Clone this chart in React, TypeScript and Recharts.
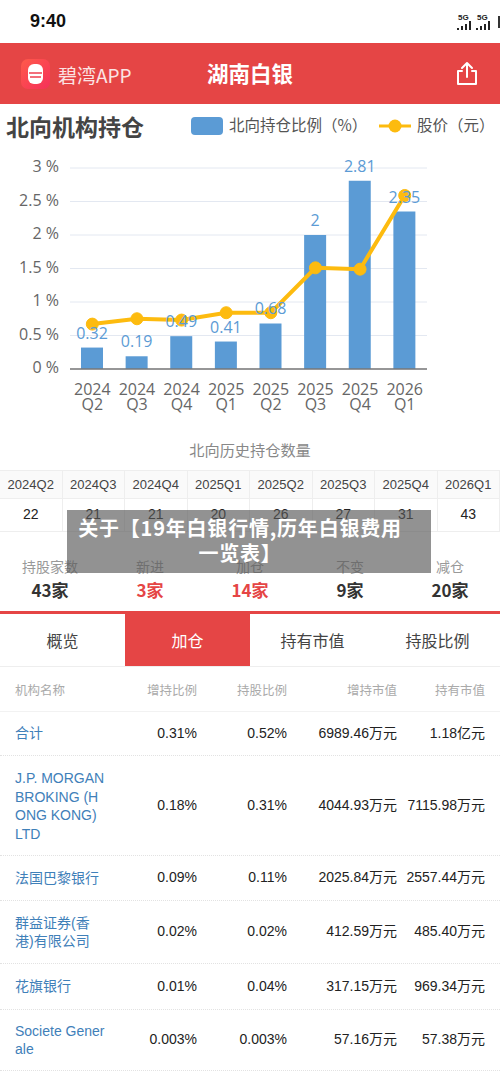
import React from "react";
import { ComposedChart, Bar, Line, XAxis, YAxis, CartesianGrid, LabelList } from "recharts";

const quarters = ["2024Q2", "2024Q3", "2024Q4", "2025Q1", "2025Q2", "2025Q3", "2025Q4", "2026Q1"];
const holdingPct = [0.32, 0.19, 0.49, 0.41, 0.68, 2, 2.81, 2.35];
const priceLine = [0.67, 0.75, 0.73, 0.84, 0.84, 1.51, 1.49, 2.59];
const yTicks = [0, 0.5, 1, 1.5, 2, 2.5, 3];
const holderCounts = [22, 21, 21, 20, 26, 27, 31, 43];
const statLabels = ["持股家数", "新进", "加仓", "不变", "减仓"];
const statValues = ["43家", "3家", "14家", "9家", "20家"];
const statRed = [false, true, true, false, false];
const tabs = ["概览", "加仓", "持有市值", "持股比例"];
const tableHeads = ["增持比例", "持股比例", "增持市值", "持有市值"];
const instNames = [["合计"], ["J.P. MORGAN", "BROKING (H", "ONG KONG)", "LTD"], ["法国巴黎银行"], ["群益证券(香", "港)有限公司"], ["花旗银行"], ["Societe Gener", "ale"]];
const addPct = ["0.31%", "0.18%", "0.09%", "0.02%", "0.01%", "0.003%"];
const holdPct = ["0.52%", "0.31%", "0.11%", "0.02%", "0.04%", "0.003%"];
const addValue = ["6989.46万元", "4044.93万元", "2025.84万元", "412.59万元", "317.15万元", "57.16万元"];
const holdValue = ["1.18亿元", "7115.98万元", "2557.44万元", "485.40万元", "969.34万元", "57.38万元"];
const rowTops = [711, 755, 855, 900, 963, 1009];
const rowBottoms = [755, 855, 900, 963, 1009, 1070];

const chartData = quarters.map((q, i) => ({ q, holding: holdingPct[i], price: priceLine[i] }));

const BLUE = "#5b9bd5";
const AMBER = "#fdbb0f";
const RED = "#e54545";
const CJK = '"Noto Sans CJK SC", "Noto Sans", sans-serif';
const LATIN = '"Liberation Sans", "Noto Sans CJK SC", sans-serif';
const AXIS = '"Open Sans", "Noto Sans CJK SC", sans-serif';

const abs = (left: number, top: number, extra: React.CSSProperties = {}): React.CSSProperties => ({
  position: "absolute",
  left,
  top,
  whiteSpace: "nowrap",
  ...extra,
});

function QuarterTick(props: any) {
  const { x, y, payload } = props;
  const v: string = payload.value;
  return (
    <text x={x} y={y} textAnchor="middle" fontSize={16} fill="#666" fontFamily={AXIS}>
      <tspan x={x} dy={18}>{v.slice(0, 4)}</tspan>
      <tspan x={x} dy={15}>{v.slice(4)}</tspan>
    </text>
  );
}

function PercentTick(props: any) {
  const { x, y, payload } = props;
  return (
    <text x={x} y={y - 1.5} dy="0.355em" textAnchor="end" fontSize={16} fill="#666" fontFamily={AXIS}>
      {`${payload.value} %`}
    </text>
  );
}

function Signal({ left }: { left: number }) {
  return (
    <svg style={abs(left, 13)} width={16} height={18}>
      <text x={2} y={7} fontSize={8} fontWeight={700} fontFamily={LATIN} fill="#222">5G</text>
      <rect x={1} y={15} width={2} height={2} fill="#222" />
      <rect x={5} y={13} width={2} height={4} fill="#222" />
      <rect x={9} y={11} width={2} height={6} fill="#222" />
      <rect x={13} y={8} width={2} height={9} fill="#222" />
    </svg>
  );
}

export default function App() {
  return (
    <div style={{ position: "absolute", left: 0, top: 0, width: 500, height: 1083, background: "#fff", overflow: "hidden", fontFamily: CJK }}>
      {/* status bar */}
      <div style={abs(30, 9, { fontFamily: LATIN, fontWeight: 700, fontSize: 18, lineHeight: "25px", color: "#111" })}>9:40</div>
      <Signal left={456} />
      <Signal left={475} />
      <div style={abs(498, 16, { width: 4, height: 12, background: "#333" })} />

      {/* header */}
      <div style={abs(0, 43, { width: 500, height: 61, background: RED })} />
      <div style={abs(21, 59, { width: 29, height: 30, borderRadius: 7, background: "linear-gradient(135deg,#ff5a4a,#f5305a)" })} />
      <svg style={abs(21, 59)} width={29} height={30}>
        <rect x={7} y={5} width={15} height={20} rx={6} fill="#fff" />
        <path d="M8 14 H21 M9 18 H20" stroke="#f04050" strokeWidth={1.5} />
      </svg>
      <div style={abs(58, 61, { fontSize: 19, lineHeight: "28px", color: "#fbe3e3" })}>碧湾APP</div>
      <div style={abs(150, 57, { width: 200, textAlign: "center", fontSize: 21.5, fontWeight: 700, lineHeight: "32px", color: "#fff" })}>湖南白银</div>
      <svg style={abs(455, 60)} width={24} height={27} fill="none" stroke="#fff" strokeWidth={2} strokeLinecap="round" strokeLinejoin="round">
        <path d="M7 11 H3 V24 H21 V11 H17" />
        <path d="M12 17 V3 M7 8 L12 3 L17 8" />
      </svg>

      {/* section title and legend */}
      <div style={abs(6, 109, { fontSize: 23, fontWeight: 700, lineHeight: "34px", color: "#444" })}>北向机构持仓</div>
      <div style={abs(191, 117, { width: 32, height: 18, borderRadius: 4, background: BLUE })} />
      <div style={abs(229, 112, { fontSize: 15.5, lineHeight: "24px", color: "#555" })}>北向持仓比例（%）</div>
      <svg style={abs(379, 117)} width={33} height={18}>
        <line x1={0} y1={9} x2={32} y2={9} stroke={AMBER} strokeWidth={3} />
        <circle cx={16} cy={9} r={6.5} fill={AMBER} />
      </svg>
      <div style={abs(417, 112, { fontSize: 15.5, lineHeight: "24px", color: "#555" })}>股价（元）</div>

      {/* chart */}
      <div style={abs(0, 130)}>
        <ComposedChart width={500} height={295} data={chartData} margin={{ top: 38, right: 73, bottom: 0, left: 0 }} barCategoryGap="25%">
          <CartesianGrid horizontal vertical={false} stroke="#e3e8f1" strokeWidth={1} />
          <XAxis
            dataKey="q"
            interval={0}
            height={56}
            tick={<QuarterTick />}
            tickLine={false}
            axisLine={{ stroke: "#777", strokeWidth: 1.5 }}
          />
          <YAxis
            width={70}
            domain={[0, 3]}
            ticks={yTicks}
            axisLine={false}
            tickLine={false}
            tickSize={0}
            tickMargin={11}
            tick={<PercentTick />}
          />
          <Bar dataKey="holding" fill={BLUE} barSize={22} isAnimationActive={false}>
            <LabelList dataKey="holding" position="top" offset={9} fill={BLUE} fontSize={16} fontFamily={AXIS} />
          </Bar>
          <Line
            dataKey="price"
            stroke={AMBER}
            strokeWidth={4}
            dot={{ r: 6, fill: AMBER, stroke: AMBER, strokeWidth: 1 }}
            isAnimationActive={false}
          />
        </ComposedChart>
      </div>

      {/* history table */}
      <div style={abs(0, 439, { width: 500, textAlign: "center", fontSize: 15.2, lineHeight: "20px", color: "#888" })}>北向历史持仓数量</div>
      <div style={abs(0, 470, { width: 500, height: 32, display: "flex", boxSizing: "border-box", borderTop: "1px solid #eee" })}>
        {quarters.map((q) => (
          <div key={q} style={{ flex: 1, background: "#fafafa", borderRight: "1px solid #eee", borderBottom: "1px solid #eee", textAlign: "center", fontFamily: LATIN, fontSize: 13, lineHeight: "27px", color: "#444", height: 27 }}>{q}</div>
        ))}
      </div>
      <div style={abs(0, 498, { width: 500, height: 34, display: "flex" })}>
        {holderCounts.map((c, i) => (
          <div key={i} style={{ flex: 1, borderRight: "1px solid #eee", borderBottom: "1px solid #eee", textAlign: "center", fontFamily: LATIN, fontSize: 14, lineHeight: "33px", color: "#222", height: 33 }}>{c}</div>
        ))}
      </div>

      {/* stats */}
      {statLabels.map((s, i) => (
        <div key={s} style={abs(i * 100, 555, { width: 100, textAlign: "center", fontSize: 14, lineHeight: "22px", color: "#999" })}>{s}</div>
      ))}
      {statValues.map((s, i) => (
        <div key={i} style={abs(i * 100, 578, { width: 100, textAlign: "center", fontSize: 17, fontWeight: 700, lineHeight: "24px", color: statRed[i] ? RED : "#333" })}>{s}</div>
      ))}

      {/* overlay caption */}
      <div style={abs(67, 510, { width: 364, height: 63, background: "rgba(90,90,90,0.66)" })} />
      <div style={abs(58, 515, { width: 364, textAlign: "center", fontSize: 20, letterSpacing: 0.8, fontWeight: 700, lineHeight: "25px", color: "#fff", fontFamily: '"Noto Sans CJK SC", sans-serif' })}>
        <div>关于【19年白银行情,历年白银费用</div>
        <div>一览表】</div>
      </div>

      {/* tabs */}
      <div style={abs(0, 611, { width: 500, height: 3, background: RED })} />
      <div style={abs(125, 613, { width: 125, height: 53, background: RED })} />
      <div style={abs(0, 666, { width: 500, height: 1, background: "#eee" })} />
      {tabs.map((t, i) => (
        <div key={t} style={abs(i * 125, 612, { width: 125, textAlign: "center", fontSize: 16, lineHeight: "56px", color: i === 1 ? "#fff" : "#444" })}>{t}</div>
      ))}

      {/* holdings table */}
      <div style={abs(15, 680, { fontSize: 12.5, lineHeight: "20px", color: "#aaa" })}>机构名称</div>
      {tableHeads.map((h, i) => (
        <div key={h + i} style={abs([197, 287, 397, 485][i] - 80, 680, { width: 80, textAlign: "right", fontSize: 12.5, lineHeight: "20px", color: "#aaa" })}>{h}</div>
      ))}
      <div style={abs(0, 711, { width: 500, height: 1, background: "#f2f2f2" })} />
      {instNames.map((lines, r) => {
        const top = rowTops[r];
        const h = rowBottoms[r] - top;
        const cells = [addPct[r], holdPct[r], addValue[r], holdValue[r]];
        const lh = lines.length === 4 ? 18.5 : 18;
        return (
          <React.Fragment key={r}>
            <div style={abs(15, top + (lines.length === 4 ? 1 : 0), { height: h, display: "flex", flexDirection: "column", justifyContent: "center", fontFamily: LATIN, fontSize: 14, lineHeight: `${lh}px`, color: "#3f80b9" })}>
              {lines.map((l) => <div key={l}>{l}</div>)}
            </div>
            {cells.map((c, i) => (
              <div key={i} style={abs([197, 287, 397, 485][i] - 100, top, { width: 100, textAlign: "right", fontFamily: LATIN, fontSize: 14, lineHeight: `${h}px`, color: "#222" })}>{c}</div>
            ))}
            <div style={abs(0, rowBottoms[r], { width: 500, height: 0, borderTop: "1px dotted #e2e2e2" })} />
          </React.Fragment>
        );
      })}
    </div>
  );
}
